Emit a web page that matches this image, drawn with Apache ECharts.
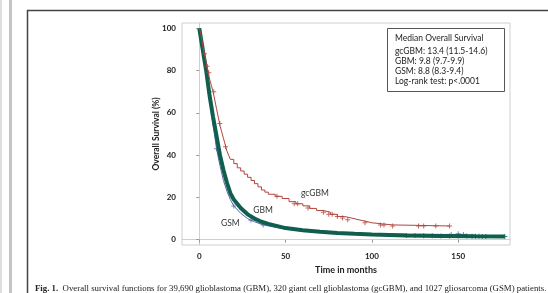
<!DOCTYPE html>
<html>
<head>
<meta charset="utf-8">
<script src="https://cdn.jsdelivr.net/npm/echarts@6/dist/echarts.min.js"></script>
<style>
  html, body { margin: 0; padding: 0; background: #fff; }
  #chart { width: 548px; height: 293px; }
</style>
</head>
<body>
<div id="chart"></div>
<script>
// survival curves, [months, percent]
var gcgbmCurve = [
  [0, 100], [1, 97], [2, 92], [3, 88], [4, 84], [5, 80], [6, 76], [7, 73], [8, 70],
  [9, 66], [10, 62], [11, 58], [12, 54], [13, 51], [14, 48], [15, 45], [16, 42],
  [17, 40], [18, 38], [20, 36], [22, 34], [24, 32.5], [26, 31], [28, 29.5], [30, 28],
  [32, 26.5], [34, 25], [36, 23.5], [38, 22.5], [40, 21.5], [44, 20.5], [48, 19.5],
  [52, 18], [56, 17], [60, 16], [64, 14.8], [68, 13.8], [72, 13], [76, 12], [80, 11],
  [84, 10.3], [88, 9.5], [92, 8.8], [96, 8], [100, 7.5], [106, 7], [112, 6.5], [145, 6.5]
];
var gbmCurve = [
  [0, 100], [2, 90], [4, 80], [6, 68], [8, 58], [9.8, 50], [12, 40], [14, 33],
  [16, 27], [18, 22], [20, 19], [24, 15], [28, 12], [32, 10], [36, 8.5], [40, 7.5],
  [50, 5.5], [60, 4.5], [70, 3.8], [80, 3.2], [90, 2.8], [100, 2.5], [120, 2],
  [140, 1.8], [160, 1.6], [177, 1.5]
];
var gsmCurve = [
  [0, 100], [2, 89], [4, 78], [6, 66], [8, 54], [8.8, 50], [10, 43], [12, 35],
  [14, 28], [16, 23], [18, 19], [20, 16], [24, 12.5], [28, 10], [32, 8.5], [36, 7.3],
  [40, 6.5], [50, 5], [60, 4.2], [80, 3.3], [100, 2.8], [120, 2.6], [140, 2.5], [155, 2.5]
];

// censored observations (+ marks)
var gcgbmCensor = [
  [3, 88], [4.5, 82], [5.5, 79], [8.4, 70], [11.9, 55], [15.2, 44], [45, 20.5],
  [55, 17], [57, 17], [63, 15], [72, 13], [75, 12], [77, 12], [80, 11], [83, 10.3],
  [86, 9.5], [96, 8], [105, 7], [107, 7], [112, 6.5], [127, 6.5], [130, 6.5],
  [137, 6.5], [145, 6.5]
];
var gsmCensor = [
  [10, 43], [20, 16], [30, 9.2], [37, 7], [146, 2.5], [150, 2.8], [153, 2.5]
];
var gbmCensor = [
  [120, 2], [125, 2], [130, 1.9], [135, 1.9], [140, 1.8], [145, 1.8], [150, 1.7],
  [155, 1.7], [158, 1.6], [160, 1.6], [162, 1.6], [164, 1.5], [166, 1.5], [177, 1.5]
];

var xTicks = [0, 50, 100, 150];
var yTicks = [0, 20, 40, 60, 80, 100];

var legendLines = [
  "gcGBM: 13.4 (11.5-14.6)",
  "GBM: 9.8 (9.7-9.9)",
  "GSM: 8.8 (8.3-9.4)",
  "Log-rank test: p<.0001"
];

var plus = "path://M4,0 H6 V4 H10 V6 H6 V10 H4 V6 H0 V4 H4 Z";
var font = "Lato, 'Open Sans', sans-serif";
var red = "#b0463c", green = "#0f5e4e", blue = "#5866b0";

var chart = echarts.init(document.getElementById("chart"));

var option = {
  animation: false,
  backgroundColor: "#fff",
  grid: {
    left: 182, right: 38, top: 23, bottom: 48,
    show: true, borderColor: "#cfcfcf", borderWidth: 1
  },
  xAxis: {
    type: "value",
    min: -10, max: 180,
    name: "Time in months",
    nameLocation: "middle",
    nameGap: 21,
    nameMoveOverlap: false,
    nameTextStyle: { fontFamily: font, fontSize: 9, color: "#222", fontWeight: "bold" },
    axisLine: { show: true, lineStyle: { color: "#cfcfcf" } },
    axisTick: { show: true, length: 3, customValues: xTicks, lineStyle: { color: "#999" } },
    axisLabel: { customValues: xTicks, margin: 7, fontFamily: font, fontSize: 8, color: "#222", fontWeight: "bold" },
    splitLine: { show: false }
  },
  yAxis: {
    type: "value",
    min: -2.5, max: 102.5,
    name: "Overall Survival (%)",
    nameLocation: "middle",
    nameGap: 21,
    nameMoveOverlap: false,
    nameTextStyle: { fontFamily: font, fontSize: 8.5, color: "#222", fontWeight: "bold" },
    axisLine: { show: true, lineStyle: { color: "#cfcfcf" } },
    axisTick: { show: true, length: 3, customValues: yTicks, lineStyle: { color: "#999" } },
    axisLabel: { customValues: yTicks, margin: 6, fontFamily: font, fontSize: 8, color: "#222", fontWeight: "bold" },
    splitLine: { show: false }
  },
  series: [
    {
      name: "GSM", type: "line", data: gsmCurve, showSymbol: false,
      lineStyle: { color: blue, width: 1 }, z: 2,
      markPoint: {
        symbolSize: 0,
        label: { show: true, formatter: "GSM", fontFamily: font, fontSize: 8.5, color: "#333" },
        data: [{ coord: [18, 8] }]
      }
    },
    {
      name: "GSM censored", type: "scatter", data: gsmCensor, symbol: plus, symbolSize: 5,
      itemStyle: { color: blue }, z: 2
    },
    {
      name: "GBM", type: "line", data: gbmCurve, showSymbol: false,
      lineStyle: { color: green, width: 4 }, z: 3,
      markPoint: {
        symbolSize: 0,
        label: { show: true, formatter: "GBM", fontFamily: font, fontSize: 8.5, color: "#333" },
        data: [{ coord: [37, 13.7] }]
      }
    },
    {
      name: "GBM censored", type: "scatter", data: gbmCensor, symbol: plus, symbolSize: 5,
      itemStyle: { color: green }, z: 3
    },
    {
      name: "gcGBM", type: "line", step: "end", data: gcgbmCurve, showSymbol: false,
      lineStyle: { color: red, width: 1 }, z: 4,
      markPoint: {
        symbolSize: 0,
        label: { show: true, formatter: "gcGBM", fontFamily: font, fontSize: 8.5, color: "#333" },
        data: [{ coord: [67, 22.2] }]
      }
    },
    {
      name: "gcGBM censored", type: "scatter", data: gcgbmCensor, symbol: plus, symbolSize: 5,
      itemStyle: { color: red }, z: 4
    }
  ],
  graphic: [
    // page edge strips
    { type: "rect", shape: { x: 0, y: 0, width: 2, height: 293 }, style: { fill: "#dedede" } },
    { type: "rect", shape: { x: 9, y: 0, width: 3, height: 293 }, style: { fill: "#c4c4c4" } },
    // figure frame
    { type: "rect", shape: { x: 27.5, y: 10.5, width: 600, height: 400 }, style: { fill: "none", stroke: "#444", lineWidth: 1.5 } },
    // median survival box
    { type: "rect", shape: { x: 387.5, y: 28.5, width: 117, height: 63 }, style: { fill: "#fff", stroke: "#555", lineWidth: 1 }, z: 10 },
    { type: "text", x: 395, y: 38, z: 11, style: { text: "Median Overall Survival", fontFamily: font, fontSize: 8.5, fill: "#222", verticalAlign: "middle" } },
    { type: "text", x: 395, y: 51, z: 11, style: { text: legendLines[0], fontFamily: font, fontSize: 8.5, fill: "#222", verticalAlign: "middle" } },
    { type: "text", x: 395, y: 61, z: 11, style: { text: legendLines[1], fontFamily: font, fontSize: 8.5, fill: "#222", verticalAlign: "middle" } },
    { type: "text", x: 395, y: 71, z: 11, style: { text: legendLines[2], fontFamily: font, fontSize: 8.5, fill: "#222", verticalAlign: "middle" } },
    { type: "text", x: 395, y: 81, z: 11, style: { text: legendLines[3], fontFamily: font, fontSize: 8.5, fill: "#222", verticalAlign: "middle" } },
    // caption
    {
      type: "text", x: 35, y: 289,
      style: {
        text: "{b|Fig. 1.}  Overall survival functions for 39,690 glioblastoma (GBM), 320 giant cell glioblastoma (gcGBM), and 1027 gliosarcoma (GSM) patients.",
        fontFamily: "'Liberation Serif', serif", fontSize: 8.8, fill: "#222", verticalAlign: "middle",
        rich: { b: { fontWeight: "bold", fontFamily: "'Liberation Serif', serif", fontSize: 8.8, fill: "#222" } }
      }
    }
  ]
};

chart.setOption(option);
</script>
</body>
</html>
